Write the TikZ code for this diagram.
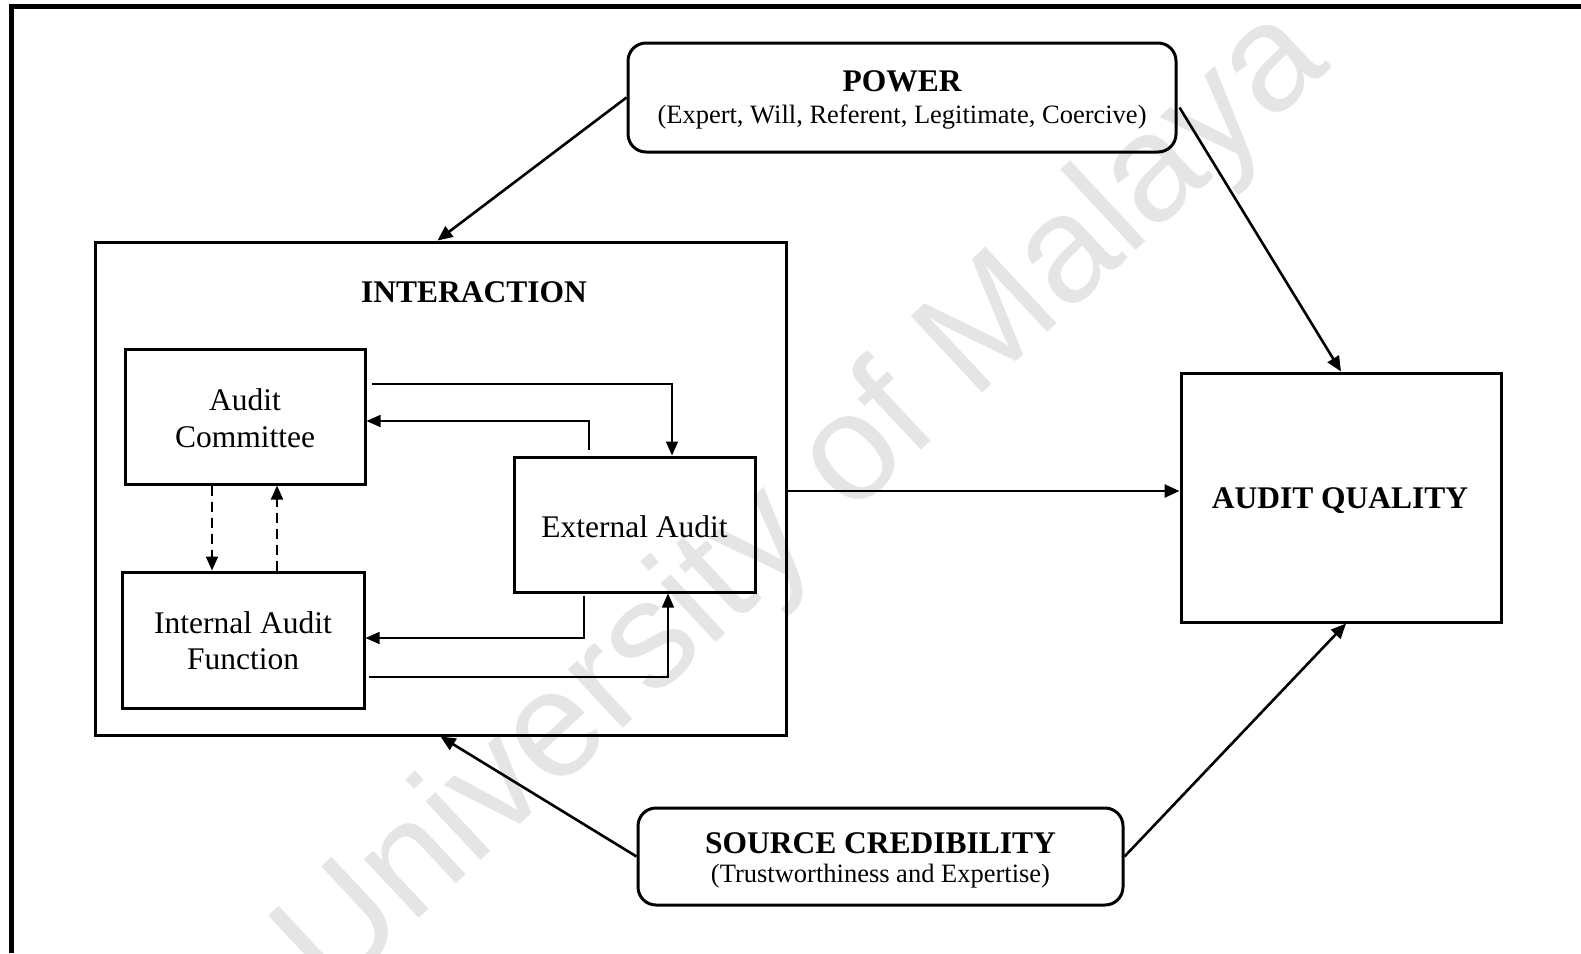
\documentclass[tikz,border=0pt]{standalone}
\usepackage{fontspec}
\setmainfont{Liberation Serif}
\newfontfamily\wmfont{Liberation Sans}
\usetikzlibrary{arrows.meta,calc}

\tikzset{
  box/.style={draw, line width=3pt, inner sep=0pt},
  roundbox/.style={box, rounded corners=18pt},
  head/.style={anchor=base, font=\fontsize{31.5}{37}\selectfont\bfseries},
  body/.style={anchor=base, font=\fontsize{31.5}{37}\selectfont},
  sub/.style={anchor=base, font=\fontsize{26.5}{31}\selectfont},
  mainarrow/.style={line width=2.6pt, -{Triangle[length=15pt,width=13pt]}},
  thinarrow/.style={line width=1.6pt, -{Triangle[length=14pt,width=12pt]}},
  dasharrow/.style={line width=2pt, dash pattern=on 10pt off 6pt, -{Triangle[length=14pt,width=12pt]}},
}

\begin{document}
\begin{tikzpicture}[x=1pt,y=-1pt]
\useasboundingbox (0,0) rectangle (1581,953);
\fill[white] (0,0) rectangle (1581,953);

% faint diagonal watermark behind everything
\node[rotate=43, text=black!10, font=\fontsize{152}{152}\selectfont\wmfont, inner sep=0pt]
  (wm) at (805,505) {University of Malaya};

% page frame (top and left edges)
\draw[line width=5pt] (11.5,953) -- (11.5,6) -- (1581,6);

% outer boxes
\node[roundbox, minimum width=548pt, minimum height=109pt] (pw) at (902,97.5) {};
\node[box, minimum width=691pt, minimum height=493pt] (ia) at (440.5,488.5) {};
\node[box, minimum width=320pt, minimum height=249pt] (aq) at (1341,497.5) {};
\node[roundbox, minimum width=485pt, minimum height=97pt] (sc) at (880.5,856.5) {};

% inner boxes
\node[box, minimum width=240pt, minimum height=135pt] (ac) at (245,416.5) {};
\node[box, minimum width=241pt, minimum height=135pt] (ea) at (634.5,524.5) {};
\node[box, minimum width=242pt, minimum height=136pt] (iaf) at (243,640) {};

% texts
\node[head] (pwt) at (902,91) {POWER};
\node[sub] (pws) at (902,123) {(Expert, Will, Referent, Legitimate, Coercive)};
\node[head] (iat) at (474,302) {INTERACTION};
\node[head] (aqt) at (1340,508) {AUDIT QUALITY};
\node[head] (sct) at (880.5,853) {SOURCE CREDIBILITY};
\node[sub] (scs) at (880.5,882) {(Trustworthiness and Expertise)};
\node[body] (act1) at (245,410) {Audit};
\node[body] (act2) at (245,447) {Committee};
\node[body] (eat) at (634.5,537) {External Audit};
\node[body] (iaft1) at (243,633) {Internal Audit};
\node[body] (iaft2) at (243,669) {Function};

% main relations
\coordinate (iaE) at ($(ia.east)+(0,2.5)$);
\draw[mainarrow] (pw.west) -- ([xshift=-3pt]ia.north);
\draw[mainarrow] ($(pw.east)+(2,10)$) -- (aq.north);
\draw[mainarrow] (iaE) -- (iaE -| aq.west);
\draw[mainarrow] (sc.west) -- (ia.south);
\draw[mainarrow] (sc.east) -- ($(aq.south)+(5,0)$);

% interactions inside the box
\draw[thinarrow] ($(ac.east)+(5,-32.5)$) -| ($(ea.north)+(37.5,0)$);
\draw[thinarrow] ($(ea.north)+(-45.5,-6)$) |- ($(ac.east)+(0,4.5)$);
\draw[thinarrow] ($(ea.south)+(-50.5,2)$) |- ($(iaf.east)+(0,-2)$);
\draw[thinarrow] ($(iaf.east)+(3,37)$) -| ($(ea.south)+(33.5,0)$);
\draw[dasharrow] ([xshift=-33pt]ac.south) -- ([xshift=-33pt]ac.south |- iaf.north);
\draw[dasharrow] ([xshift=32pt]ac.south |- iaf.north) -- ([xshift=32pt]ac.south);
\end{tikzpicture}
\end{document}
